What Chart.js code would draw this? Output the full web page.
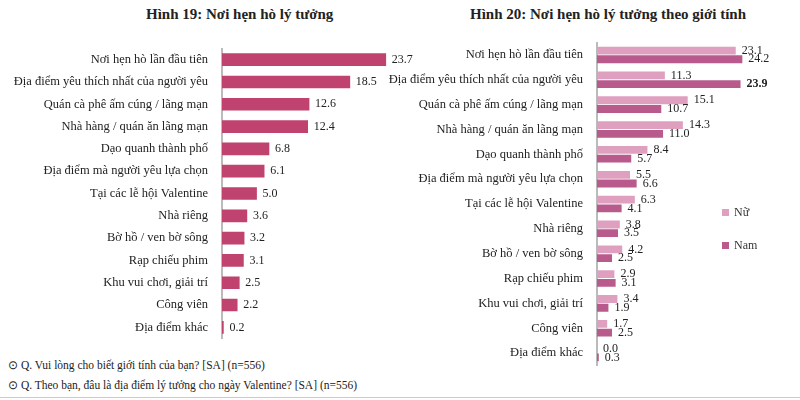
<!DOCTYPE html>
<html>
<head>
<meta charset="utf-8">
<script src="https://cdn.jsdelivr.net/npm/chart.js@4"></script>
<style>
  body { margin: 0; background: #fff; font-family: "Liberation Serif", serif; }
  #wrap { position: relative; width: 800px; height: 400px; overflow: hidden; }
  .title { position: absolute; top: 6px; font-weight: bold; font-size: 15px; color: #222; }
  .box { position: absolute; }
  .note { position: absolute; left: 8px; font-size: 11.5px; color: #222; }
  .leg { position: absolute; left: 722px; font-size: 12px; color: #333; }
  .leg i { display: inline-block; width: 7px; height: 7px; margin-right: 5px; }
  #rule { position: absolute; left: 0; top: 397px; width: 800px; border-top: 1px solid #e8c98a; }
</style>
</head>
<body>
<div id="wrap">
  <div class="title" style="left:146px">Hình 19: Nơi hẹn hò lý tưởng</div>
  <div class="title" style="left:470px">Hình 20: Nơi hẹn hò lý tưởng theo giới tính</div>
  <div class="box" style="left:0;top:35px;width:430px;height:317px"><canvas id="leftChart"></canvas></div>
  <div class="box" style="left:380px;top:29px;width:420px;height:350px"><canvas id="rightChart"></canvas></div>
  <div class="leg" style="top:205px"><i style="background:#dfa0c0"></i>Nữ</div>
  <div class="leg" style="top:238px"><i style="background:#b85a8c"></i>Nam</div>
  <div class="note" style="top:358px">⊙ Q. Vui lòng cho biết giới tính của bạn? [SA] (n=556)</div>
  <div class="note" style="top:378px">⊙ Q. Theo bạn, đâu là địa điểm lý tưởng cho ngày Valentine? [SA] (n=556)</div>
  <div id="rule"></div>
</div>
<script>
// === DATA ===
const categories = [
  'Nơi hẹn hò lần đầu tiên',
  'Địa điểm yêu thích nhất của người yêu',
  'Quán cà phê ấm cúng / lãng mạn',
  'Nhà hàng / quán ăn lãng mạn',
  'Dạo quanh thành phố',
  'Địa điểm mà người yêu lựa chọn',
  'Tại các lễ hội Valentine',
  'Nhà riêng',
  'Bờ hồ / ven bờ sông',
  'Rạp chiếu phim',
  'Khu vui chơi, giải trí',
  'Công viên',
  'Địa điểm khác'
];
const totalValues = [23.7, 18.5, 12.6, 12.4, 6.8, 6.1, 5.0, 3.6, 3.2, 3.1, 2.5, 2.2, 0.2];
const femaleValues = [23.1, 11.3, 15.1, 14.3, 8.4, 5.5, 6.3, 3.8, 4.2, 2.9, 3.4, 1.7, 0.0];
const maleValues = [24.2, 23.9, 10.7, 11.0, 5.7, 6.6, 4.1, 3.5, 2.5, 3.1, 1.9, 2.5, 0.3];
const boldMale = [1]; // indexes whose male label is bold

// Draws value labels at the end of each bar
const valueLabels = {
    id: 'valueLabels',
    afterDatasetsDraw(chart) {
        const ctx = chart.ctx;
        chart.data.datasets.forEach((ds, di) => {
            chart.getDatasetMeta(di).data.forEach((bar, i) => {
                const bold = ds.label === 'Nam' && boldMale.includes(i);
                ctx.save();
                ctx.font = (bold ? 'bold ' : '') + '12px "Liberation Serif"';
                ctx.fillStyle = '#222';
                ctx.textBaseline = 'middle';
                ctx.fillText(ds.data[i].toFixed(1), bar.x + 6, bar.y);
                ctx.restore();
            });
        });
    }
};

function makeOptions(max, axisWidth) {
    return {
        indexAxis: 'y',
        responsive: true,
        maintainAspectRatio: false,
        animation: false,
        layout: { padding: 0 },
        plugins: { legend: { display: false }, tooltip: { enabled: false } },
        scales: {
            x: { display: false, min: 0, max: max },
            y: {
                afterFit(scale) { scale.width = axisWidth; },
                grid: { display: false },
                border: { display: true, color: '#bbb', width: 2 },
                ticks: { color: '#222', font: { family: 'Liberation Serif', size: 12.5 }, padding: 6 }
            }
        }
    };
}

new Chart(document.getElementById('leftChart'), {
    type: 'bar',
    data: {
        labels: categories,
        datasets: [{ label: 'Tổng', data: totalValues, backgroundColor: '#c0426e', barThickness: 12 }]
    },
    options: makeOptions(30.1, 222),
    plugins: [valueLabels]
});

new Chart(document.getElementById('rightChart'), {
    type: 'bar',
    data: {
        labels: categories,
        datasets: [
            { label: 'Nữ', data: femaleValues, backgroundColor: '#dfa0c0', categoryPercentage: 0.7, barPercentage: 0.9 },
            { label: 'Nam', data: maleValues, backgroundColor: '#b85a8c', categoryPercentage: 0.7, barPercentage: 0.9 }
        ]
    },
    options: makeOptions(33.8, 217),
    plugins: [valueLabels]
});
</script>
</body>
</html>
